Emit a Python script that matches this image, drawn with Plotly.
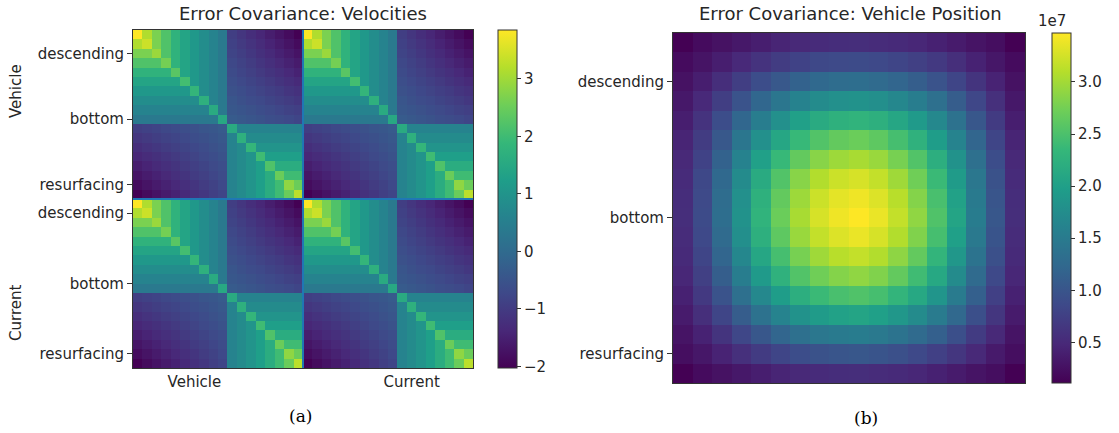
import numpy as np
import plotly.graph_objects as go

W, H = 1119, 433

# ---------------- data ----------------
# one 18x18 velocity error-covariance block (all four Vehicle/Current blocks look identical)
vel_block = [
    [3.85, 3.15, 2.65, 2.20, 1.75, 1.40, 1.10, 0.85, 0.60, 0.35, -0.95, -1.10, -1.25, -1.40, -1.55, -1.70, -1.85, -2.03],
    [3.15, 3.40, 2.65, 2.20, 1.75, 1.40, 1.10, 0.85, 0.60, 0.35, -0.88, -1.02, -1.16, -1.30, -1.44, -1.58, -1.72, -1.87],
    [2.65, 2.65, 2.95, 2.20, 1.75, 1.40, 1.10, 0.85, 0.60, 0.35, -0.82, -0.95, -1.08, -1.21, -1.34, -1.47, -1.60, -1.73],
    [2.20, 2.20, 2.20, 2.60, 1.75, 1.40, 1.10, 0.85, 0.60, 0.35, -0.75, -0.87, -0.99, -1.11, -1.23, -1.36, -1.48, -1.60],
    [1.75, 1.75, 1.75, 1.75, 2.30, 1.40, 1.10, 0.85, 0.60, 0.35, -0.68, -0.80, -0.91, -1.02, -1.13, -1.24, -1.35, -1.47],
    [1.40, 1.40, 1.40, 1.40, 1.40, 2.05, 1.10, 0.85, 0.60, 0.35, -0.62, -0.72, -0.82, -0.92, -1.03, -1.13, -1.23, -1.33],
    [1.10, 1.10, 1.10, 1.10, 1.10, 1.10, 1.85, 0.85, 0.60, 0.35, -0.55, -0.64, -0.74, -0.83, -0.92, -1.01, -1.11, -1.20],
    [0.85, 0.85, 0.85, 0.85, 0.85, 0.85, 0.85, 1.70, 0.60, 0.35, -0.48, -0.57, -0.65, -0.73, -0.82, -0.90, -0.98, -1.07],
    [0.60, 0.60, 0.60, 0.60, 0.60, 0.60, 0.60, 0.60, 1.55, 0.35, -0.42, -0.49, -0.56, -0.64, -0.71, -0.78, -0.86, -0.93],
    [0.35, 0.35, 0.35, 0.35, 0.35, 0.35, 0.35, 0.35, 0.35, 1.50, -0.35, -0.41, -0.48, -0.54, -0.61, -0.67, -0.73, -0.80],
    [-0.95, -0.88, -0.82, -0.75, -0.68, -0.62, -0.55, -0.48, -0.42, -0.35, 1.55, 0.60, 0.60, 0.60, 0.60, 0.60, 0.60, 0.60],
    [-1.10, -1.02, -0.95, -0.87, -0.80, -0.72, -0.64, -0.57, -0.49, -0.41, 0.60, 1.70, 0.80, 0.80, 0.80, 0.80, 0.80, 0.80],
    [-1.25, -1.16, -1.08, -0.99, -0.91, -0.82, -0.74, -0.65, -0.56, -0.48, 0.60, 0.80, 1.85, 1.00, 1.00, 1.00, 1.00, 1.00],
    [-1.40, -1.30, -1.21, -1.11, -1.02, -0.92, -0.83, -0.73, -0.64, -0.54, 0.60, 0.80, 1.00, 2.00, 1.25, 1.25, 1.25, 1.25],
    [-1.55, -1.44, -1.34, -1.23, -1.13, -1.03, -0.92, -0.82, -0.71, -0.61, 0.60, 0.80, 1.00, 1.25, 2.20, 1.60, 1.60, 1.60],
    [-1.70, -1.58, -1.47, -1.36, -1.24, -1.13, -1.01, -0.90, -0.78, -0.67, 0.60, 0.80, 1.00, 1.25, 1.60, 2.50, 2.00, 2.00],
    [-1.85, -1.72, -1.60, -1.48, -1.35, -1.23, -1.11, -0.98, -0.86, -0.73, 0.60, 0.80, 1.00, 1.25, 1.60, 2.00, 2.85, 2.50],
    [-2.03, -1.87, -1.73, -1.60, -1.47, -1.33, -1.20, -1.07, -0.93, -0.80, 0.60, 0.80, 1.00, 1.25, 1.60, 2.00, 2.50, 3.25],
]

# vehicle position error covariance, in units of 1e7
pos_cov_1e7 = [
    [0.11, 0.21, 0.27, 0.33, 0.39, 0.45, 0.49, 0.52, 0.54, 0.55, 0.53, 0.51, 0.47, 0.42, 0.36, 0.29, 0.23, 0.11],
    [0.21, 0.29, 0.39, 0.50, 0.61, 0.71, 0.78, 0.84, 0.87, 0.88, 0.86, 0.81, 0.75, 0.67, 0.56, 0.43, 0.32, 0.21],
    [0.27, 0.39, 0.55, 0.73, 0.90, 1.04, 1.16, 1.25, 1.30, 1.32, 1.28, 1.21, 1.11, 0.98, 0.81, 0.62, 0.44, 0.27],
    [0.33, 0.50, 0.73, 0.98, 1.22, 1.43, 1.60, 1.72, 1.79, 1.82, 1.77, 1.67, 1.53, 1.34, 1.10, 0.83, 0.57, 0.33],
    [0.39, 0.61, 0.90, 1.22, 1.53, 1.79, 2.01, 2.16, 2.25, 2.29, 2.23, 2.10, 1.92, 1.68, 1.38, 1.03, 0.70, 0.39],
    [0.45, 0.71, 1.04, 1.43, 1.79, 2.10, 2.36, 2.54, 2.65, 2.70, 2.62, 2.46, 2.26, 1.97, 1.61, 1.20, 0.81, 0.45],
    [0.49, 0.78, 1.16, 1.60, 2.01, 2.36, 2.65, 2.86, 2.97, 3.03, 2.95, 2.77, 2.54, 2.21, 1.81, 1.34, 0.90, 0.49],
    [0.52, 0.84, 1.25, 1.72, 2.16, 2.54, 2.86, 3.08, 3.21, 3.27, 3.17, 2.98, 2.73, 2.38, 1.94, 1.44, 0.96, 0.52],
    [0.54, 0.87, 1.30, 1.79, 2.25, 2.65, 2.97, 3.21, 3.34, 3.40, 3.30, 3.11, 2.84, 2.48, 2.02, 1.49, 1.00, 0.54],
    [0.55, 0.88, 1.32, 1.82, 2.29, 2.70, 3.03, 3.27, 3.40, 3.47, 3.37, 3.17, 2.90, 2.53, 2.06, 1.52, 1.02, 0.55],
    [0.53, 0.86, 1.28, 1.77, 2.23, 2.62, 2.95, 3.17, 3.30, 3.37, 3.27, 3.08, 2.82, 2.46, 2.00, 1.48, 0.99, 0.53],
    [0.51, 0.81, 1.21, 1.67, 2.10, 2.46, 2.77, 2.98, 3.11, 3.17, 3.08, 2.89, 2.65, 2.31, 1.88, 1.39, 0.94, 0.51],
    [0.47, 0.75, 1.11, 1.53, 1.92, 2.26, 2.54, 2.73, 2.84, 2.90, 2.82, 2.65, 2.42, 2.12, 1.73, 1.28, 0.86, 0.47],
    [0.42, 0.67, 0.98, 1.34, 1.68, 1.97, 2.21, 2.38, 2.48, 2.53, 2.46, 2.31, 2.12, 1.85, 1.51, 1.13, 0.76, 0.42],
    [0.36, 0.56, 0.81, 1.10, 1.38, 1.61, 1.81, 1.94, 2.02, 2.06, 2.00, 1.88, 1.73, 1.51, 1.24, 0.93, 0.64, 0.36],
    [0.29, 0.43, 0.62, 0.83, 1.03, 1.20, 1.34, 1.44, 1.49, 1.52, 1.48, 1.39, 1.28, 1.13, 0.93, 0.70, 0.49, 0.29],
    [0.23, 0.32, 0.44, 0.57, 0.70, 0.81, 0.90, 0.96, 1.00, 1.02, 0.99, 0.94, 0.86, 0.76, 0.64, 0.49, 0.35, 0.23],
    [0.11, 0.21, 0.27, 0.33, 0.39, 0.45, 0.49, 0.52, 0.54, 0.55, 0.53, 0.51, 0.47, 0.42, 0.36, 0.29, 0.23, 0.11],
]

phase_labels = ["descending", "bottom", "resurfacing"]
phase_ticks = [2, 9, 16]
vel_y_ticks = [2, 9, 16, 19, 26.5, 34]
vel_y_labels = phase_labels + phase_labels
vel_x_ticks = [6, 29]
vel_x_labels = ["Vehicle", "Current"]
vel_cb_ticks = [-2, -1, 0, 1, 2, 3]
pos_cb_ticks = [0.5, 1.0, 1.5, 2.0, 2.5, 3.0]

# ---------------- build ----------------
blk = np.array(vel_block)
vel_full = np.block([[blk, blk], [blk, blk]])
nb = blk.shape[0]
nv = vel_full.shape[0]
npos = len(pos_cov_1e7)

FONT = "DejaVu Sans"
TXT = "#262626"
AX = "#333333"


def px(x):
    return x / W


def py(y):
    return 1 - y / H


fig = go.Figure()
fig.add_trace(go.Heatmap(
    z=vel_full, colorscale="Viridis", xaxis="x", yaxis="y",
    colorbar=dict(x=px(498), xanchor="left", xpad=0, ypad=0,
                  y=py((30 + 368) / 2), yanchor="middle", len=(368 - 30) / H,
                  thickness=19, outlinewidth=1, outlinecolor=AX,
                  tickvals=vel_cb_ticks, ticks="outside", ticklen=4, tickcolor=AX,
                  tickfont=dict(family=FONT, size=15, color=TXT)),
))
fig.add_trace(go.Heatmap(
    z=pos_cov_1e7, colorscale="Viridis", xaxis="x2", yaxis="y2",
    colorbar=dict(x=px(1052), xanchor="left", xpad=0, ypad=0,
                  y=py((33 + 383) / 2), yanchor="middle", len=(383 - 33) / H,
                  thickness=19, outlinewidth=1, outlinecolor=AX,
                  tickvals=pos_cb_ticks, tickformat=".1f", ticks="outside", ticklen=4, tickcolor=AX,
                  tickfont=dict(family=FONT, size=15, color=TXT)),
))

axcommon = dict(showgrid=False, zeroline=False, showline=True, mirror=True,
                linecolor=AX, linewidth=1, ticks="outside", ticklen=5, tickcolor=AX,
                tickfont=dict(family=FONT, size=15, color=TXT))

fig.update_layout(
    width=W, height=H,
    margin=dict(l=0, r=0, t=0, b=0, autoexpand=False),
    paper_bgcolor="white", plot_bgcolor="white",
    showlegend=False,
    xaxis=dict(domain=[px(133), px(473)], anchor="y", range=[-0.5, nv - 0.5],
               tickvals=vel_x_ticks, ticktext=vel_x_labels, ticklen=0,
               **{k: v for k, v in axcommon.items() if k != "ticklen"}),
    yaxis=dict(domain=[py(368), py(30)], anchor="x", range=[nv - 0.5, -0.5],
               tickvals=vel_y_ticks, ticktext=vel_y_labels, **axcommon),
    xaxis2=dict(domain=[px(673), px(1025)], anchor="y2", range=[-0.5, npos - 0.5],
                showticklabels=False, **{k: v for k, v in axcommon.items() if k != "ticks"}, ticks=""),
    yaxis2=dict(domain=[py(383), py(33)], anchor="x2", range=[npos - 0.5, -0.5],
                tickvals=phase_ticks, ticktext=phase_labels, **axcommon),
)

# block separators
sep = nb - 0.5
fig.add_shape(type="line", xref="x", yref="y", x0=sep, x1=sep, y0=-0.5, y1=nv - 0.5,
              line=dict(color="#1f77b4", width=2))
fig.add_shape(type="line", xref="x", yref="y", x0=-0.5, x1=nv - 0.5, y0=sep, y1=sep,
              line=dict(color="#1f77b4", width=2))

ann = []
ann.append(dict(text="Error Covariance: Velocities", x=px(303), y=py(14), xref="paper", yref="paper",
                showarrow=False, xanchor="center", yanchor="middle",
                font=dict(family=FONT, size=18, color=TXT)))
ann.append(dict(text="Error Covariance: Vehicle Position", x=px(850), y=py(14), xref="paper", yref="paper",
                showarrow=False, xanchor="center", yanchor="middle",
                font=dict(family=FONT, size=18, color=TXT)))
ann.append(dict(text="Vehicle", x=px(16), y=py(91), xref="paper", yref="paper", textangle=-90,
                showarrow=False, xanchor="center", yanchor="middle",
                font=dict(family=FONT, size=15, color=TXT)))
ann.append(dict(text="Current", x=px(16), y=py(313), xref="paper", yref="paper", textangle=-90,
                showarrow=False, xanchor="center", yanchor="middle",
                font=dict(family=FONT, size=15, color=TXT)))
ann.append(dict(text="1e7", x=px(1052), y=py(21), xref="paper", yref="paper",
                showarrow=False, xanchor="center", yanchor="middle",
                font=dict(family=FONT, size=15, color=TXT)))
ann.append(dict(text="(a)", x=px(300), y=py(416), xref="paper", yref="paper",
                showarrow=False, xanchor="center", yanchor="middle",
                font=dict(family="DejaVu Serif", size=17, color="black")))
ann.append(dict(text="(b)", x=px(866), y=py(418), xref="paper", yref="paper",
                showarrow=False, xanchor="center", yanchor="middle",
                font=dict(family="DejaVu Serif", size=17, color="black")))
fig.update_layout(annotations=ann)

fig.write_html("out.html", config={"displayModeBar": False},
               post_script="document.body.style.margin='0px';")
